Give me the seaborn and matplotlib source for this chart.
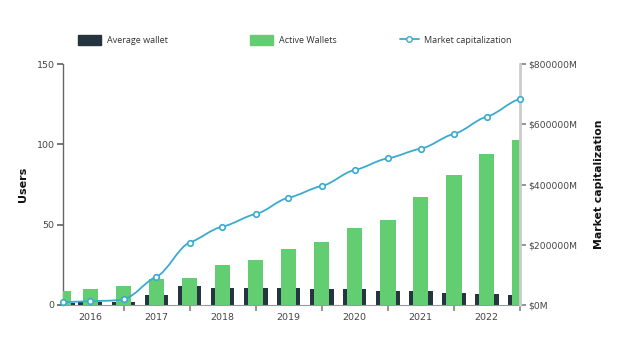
import numpy as np
import pandas as pd
import matplotlib
matplotlib.use("Agg")
import matplotlib.pyplot as plt
import matplotlib.dates as mdates
import matplotlib.ticker as mticker
from matplotlib.path import Path
from matplotlib.patches import PathPatch, Patch
from matplotlib.lines import Line2D
import seaborn as sns

# ---------------- data ----------------
dates = ["2016-02-01", "2016-07-01", "2017-01-01", "2017-07-01", "2018-01-01",
         "2018-07-01", "2019-01-01", "2019-07-01", "2020-01-01", "2020-07-01",
         "2021-01-01", "2021-07-01", "2022-01-01", "2022-07-01", "2023-01-01"]
active_wallets = [9, 10, 12, 16, 17, 25, 28, 35, 39, 48, 53, 67, 81, 94, 103]
average_wallet = [1, 1.7, 1.7, 6, 12, 10.5, 10.5, 10.3, 10, 10, 9, 9, 7.5, 7, 6.5]
market_cap = [9000, 13000, 19000, 94000, 207000, 260000, 302000, 356000, 395000,
              448000, 487000, 519000, 568000, 625000, 684000]
left_ticks = [0, 50, 100, 150]
right_ticks = [0, 200000, 400000, 600000, 800000]

df = pd.DataFrame({"date": pd.to_datetime(dates),
                   "active": active_wallets,
                   "avg": average_wallet,
                   "cap": market_cap})

# ---------------- style ----------------
sns.set_theme(style="white")
plt.rcParams["font.family"] = ["DejaVu Sans"]

DARK = "#243540"
GREEN = "#62cd71"
BLUE = "#3aabcf"
TXT = "#444444"

fig = plt.figure(figsize=(6.24, 3.41), dpi=100)
ax = fig.add_axes([63/624, 36/341, 457/624, 241/341])
ax2 = ax.twinx()

x = mdates.date2num(df["date"])
ax.bar(x, df["avg"], width=131, color=DARK, linewidth=0, zorder=2)
ax.bar(x, df["active"], width=86, color=GREEN, linewidth=0, zorder=3)

ax.set_xlim(x[0], x[-1])
ax.set_ylim(0, 150)
ax.set_yticks(left_ticks)
ax2.set_ylim(0, 800000)
ax2.set_yticks(right_ticks)
ax2.yaxis.set_major_formatter(mticker.FuncFormatter(lambda v, p: f"${int(v)}M"))

# smooth line (cubic Bezier through data points)
ax2.set_zorder(ax.get_zorder() + 1)
ax2.patch.set_visible(False)
y = np.asarray(market_cap, dtype=float)
verts = [(x[0], y[0])]
codes = [Path.MOVETO]
k = 0.45
n = len(x)
for i in range(n - 1):
    x0, y0 = x[i], y[i]
    x1, y1 = x[i + 1], y[i + 1]
    xp, yp = (x[i - 1], y[i - 1]) if i > 0 else (x0, y0)
    xn, yn = (x[i + 2], y[i + 2]) if i + 2 < n else (x1, y1)
    s0 = (y1 - yp) / (x1 - xp)
    s1 = (yn - y0) / (xn - x0)
    dx = (x1 - x0) / 3
    verts += [(x0 + dx, y0 + k * s0 * dx), (x1 - dx, y1 - k * s1 * dx), (x1, y1)]
    codes += [Path.CURVE4] * 3
ax2.add_patch(PathPatch(Path(verts, codes), facecolor="none", edgecolor=BLUE,
                        lw=1.3, zorder=4, clip_on=True))
sns.scatterplot(x=x, y=y, ax=ax2, marker="o", s=16, facecolor="white",
                edgecolor=BLUE, linewidth=1.2, zorder=5, clip_on=False, legend=False)

# x axis: year ticks, labels mid-year
ax.xaxis.set_major_locator(mdates.YearLocator())
ax.xaxis.set_major_formatter(mticker.NullFormatter())
ax.xaxis.set_minor_locator(mdates.MonthLocator(bymonth=7))
ax.xaxis.set_minor_formatter(mdates.DateFormatter("%Y"))
ax.tick_params(axis="x", which="major", length=4, color="#888888", bottom=True)
ax.tick_params(axis="x", which="minor", length=0, pad=6, labelsize=6.8, labelcolor=TXT, bottom=True)
ax.tick_params(axis="y", length=4, color="#666666", labelsize=6.8, labelcolor=TXT, left=True, pad=2)
ax2.tick_params(axis="y", length=4, color="#888888", labelsize=6.6, labelcolor=TXT, right=True, pad=2)

for a in (ax, ax2):
    for s in a.spines.values():
        s.set_visible(False)
ax.spines["left"].set_visible(True)
ax.spines["left"].set_color("#666666")
ax.spines["left"].set_linewidth(1.0)
ax.spines["bottom"].set_visible(True)
ax.spines["bottom"].set_color("#999999")
ax.spines["bottom"].set_linewidth(0.8)
ax2.spines["right"].set_visible(True)
ax2.spines["right"].set_color("#cccccc")
ax2.spines["right"].set_linewidth(2)

ax.set_ylabel("Users", fontsize=8, fontweight="bold", color="#111111", labelpad=6)
ax2.set_ylabel("Market capitalization", fontsize=7.8, fontweight="bold", color="#111111",
               labelpad=12, rotation=90)
ax.set_xlabel("")

# legend
items = [
    (Patch(facecolor=DARK, edgecolor=DARK), "Average wallet", 78, 2.6),
    (Patch(facecolor=GREEN, edgecolor=GREEN), "Active Wallets", 250, 2.6),
    (Line2D([0], [0], color=BLUE, lw=1.3, marker="o", markersize=4,
            markerfacecolor="white", markeredgecolor=BLUE), "Market capitalization", 400, 2.1),
]
for h, lab, px, hl in items:
    leg = fig.legend([h], [lab], loc="center left", bbox_to_anchor=(px / 624, 1 - 40 / 341),
                     frameon=False, prop={"family": ["Open Sans", "DejaVu Sans"], "size": 6.5},
                     handlelength=hl, handleheight=1.3,
                     handletextpad=0.6, borderpad=0, borderaxespad=0)
    for t in leg.get_texts():
        t.set_color("#333333")

fig.savefig("out.png", dpi=100)
